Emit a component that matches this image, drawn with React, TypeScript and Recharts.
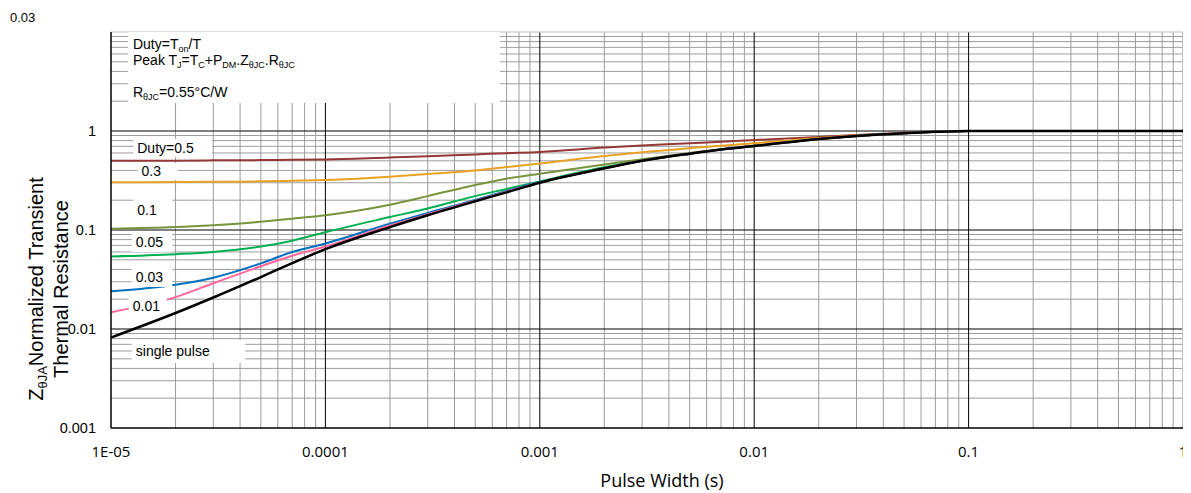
import React from "react"
import {
  LineChart,
  Line,
  XAxis,
  YAxis,
  ReferenceLine,
  ReferenceArea,
} from "recharts"

// pulse width (s) sample points shared by every curve
const pulseWidth = [
  1e-5, 2e-5, 3e-5, 5e-5, 7e-5, 1e-4, 2e-4, 3e-4, 5e-4, 7e-4, 1e-3, 2e-3,
  3e-3, 5e-3, 7e-3, 1e-2, 2e-2, 3e-2, 5e-2, 7e-2, 0.1, 0.2, 0.5, 1,
]

const duty05 = [
  0.5, 0.502, 0.505, 0.508, 0.511, 0.515, 0.54, 0.555, 0.58, 0.597, 0.615,
  0.68, 0.715, 0.75, 0.78, 0.81, 0.87, 0.91, 0.96, 0.985, 1, 1, 1, 1,
]
const duty03 = [
  0.303, 0.305, 0.307, 0.31, 0.314, 0.32, 0.345, 0.368, 0.4, 0.432, 0.47,
  0.56, 0.61, 0.67, 0.71, 0.75, 0.85, 0.9, 0.95, 0.98, 1, 1, 1, 1,
]
const duty01 = [
  0.103, 0.107, 0.112, 0.121, 0.13, 0.141, 0.18, 0.22, 0.285, 0.33, 0.37,
  0.46, 0.52, 0.6, 0.655, 0.71, 0.83, 0.89, 0.95, 0.98, 1, 1, 1, 1,
]
const duty005 = [
  0.054, 0.057, 0.06, 0.068, 0.078, 0.095, 0.135, 0.165, 0.22, 0.26, 0.31,
  0.43, 0.5, 0.59, 0.65, 0.705, 0.83, 0.89, 0.95, 0.98, 1, 1, 1, 1,
]
const duty003 = [
  0.024, 0.028, 0.033, 0.046, 0.06, 0.073, 0.116, 0.149, 0.201, 0.248, 0.305,
  0.42, 0.5, 0.59, 0.65, 0.705, 0.83, 0.89, 0.95, 0.98, 1, 1, 1, 1,
]
const duty001 = [
  0.0148, 0.021, 0.029, 0.043, 0.055, 0.068, 0.111, 0.144, 0.198, 0.244, 0.302,
  0.42, 0.5, 0.59, 0.65, 0.705, 0.83, 0.89, 0.95, 0.98, 1, 1, 1, 1,
]
const singlePulse = [
  0.0082, 0.0145, 0.0208, 0.0335, 0.0462, 0.064, 0.107, 0.141, 0.195, 0.24,
  0.3, 0.42, 0.5, 0.59, 0.65, 0.705, 0.83, 0.89, 0.95, 0.98, 1, 1, 1, 1,
]

const xTicks = [1e-5, 1e-4, 1e-3, 1e-2, 1e-1, 1]
const xTickLabels = ["1E-05", "0.0001", "0.001", "0.01", "0.1", "1"]
const yTicks = [0.001, 0.01, 0.1, 1]
const yTickLabels = ["0.001", "0.01", "0.1", "1"]

const series = [
  { key: "d05", name: "Duty=0.5", values: duty05, color: "#953735", width: 2 },
  { key: "d03", name: "0.3", values: duty03, color: "#E8A124", width: 2 },
  { key: "d01", name: "0.1", values: duty01, color: "#77933C", width: 2 },
  { key: "d005", name: "0.05", values: duty005, color: "#00B050", width: 2 },
  { key: "d003", name: "0.03", values: duty003, color: "#0070C0", width: 2 },
  { key: "d001", name: "0.01", values: duty001, color: "#FF6699", width: 2 },
  { key: "single", name: "single pulse", values: singlePulse, color: "#000000", width: 2.5 },
]

const data = pulseWidth.map((t, i) => {
  const row: Record<string, number> = { t }
  series.forEach((s) => (row[s.key] = s.values[i]))
  return row
})

// curve labels sit on white boxes, given in data space [x1, x2, y1, y2]
const curveLabels = [
  { text: "Duty=0.5", box: [1.27e-5, 2.96e-5, 0.546, 0.83] },
  { text: "0.3", box: [1.33e-5, 2.05e-5, 0.32, 0.475] },
  { text: "0.1", box: [1.27e-5, 1.93e-5, 0.1205, 0.206] },
  { text: "0.05", box: [1.25e-5, 1.93e-5, 0.06, 0.0932] },
  { text: "0.03", box: [1.25e-5, 1.93e-5, 0.0266, 0.0423] },
  { text: "0.01", box: [1.21e-5, 1.82e-5, 0.01385, 0.0206] },
  { text: "single pulse", box: [1.25e-5, 4.22e-5, 0.00454, 0.00774] },
]
const noteBox = [1.2e-5, 6.52e-4, 1.92, 10]

const decades = [1e-5, 1e-4, 1e-3, 1e-2, 1e-1]
const minorX = decades.flatMap((d) => [2, 3, 4, 5, 6, 7, 8, 9].map((k) => k * d))
const minorY = [1e-3, 1e-2, 1e-1, 1].flatMap((d) =>
  [2, 3, 4, 5, 6, 7, 8, 9].map((k) => k * d)
)

const ARIAL = "Liberation Sans, Arial, sans-serif"
const CALIBRI = "Open Sans, sans-serif"

const XTick = ({ x, y, payload }: any) => (
  <text x={x} y={y + 29} textAnchor="middle" fontFamily={CALIBRI} fontSize={15} fill="#000">
    {xTickLabels[xTicks.indexOf(payload.value)]}
  </text>
)

const YTick = ({ x, y, payload }: any) => (
  <text x={x} y={y} dy="0.36em" textAnchor="end" fontFamily={ARIAL} fontSize={14.5} fill="#000">
    {yTickLabels[yTicks.indexOf(payload.value)]}
  </text>
)

// parts: [text, isSubscript]
const rich = (parts: [string, boolean][], subSize: number, shift: number) => {
  let level = 0
  return parts.map(([t, sub], i) => {
    const target = sub ? shift : 0
    const dy = target - level
    level = target
    return (
      <tspan key={i} dy={dy} fontSize={sub ? subSize : undefined}>
        {t}
      </tspan>
    )
  })
}

const YTitle = ({ viewBox }: any) => {
  const cy = viewBox.y + 257
  return (
    <g fontFamily={ARIAL} fill="#000">
      <text x={viewBox.x + 2} y={viewBox.y - 10} fontSize={13}>
        0.03
      </text>
      <text
        transform={`translate(${viewBox.x + 35},${cy}) rotate(-90)`}
        textAnchor="middle"
        fontSize={20}
      >
        {rich(
          [
            ["Z", false],
            ["θJA", true],
            ["Normalized Transient", false],
          ],
          13,
          4
        )}
      </text>
      <text
        transform={`translate(${viewBox.x + 60},${cy}) rotate(-90)`}
        textAnchor="middle"
        fontSize={20}
      >
        Thermal Resistance
      </text>
    </g>
  )
}

const XTitle = ({ viewBox }: any) => (
  <text
    x={viewBox.x + viewBox.width / 2 + 15}
    y={viewBox.y + 59}
    textAnchor="middle"
    fontFamily={CALIBRI}
    fontSize={18}
    fill="#000"
  >
    Pulse Width (s)
  </text>
)

const labelBox = (text: string) => (props: any) => (
  <g>
    <rect x={props.x} y={props.y} width={props.width} height={props.height} fill="#fff" />
    <text
      x={props.x + 4}
      y={props.y + props.height / 2 + 5}
      fontFamily={ARIAL}
      fontSize={14}
      fill="#000"
    >
      {text}
    </text>
  </g>
)

const NoteShape = (props: any) => {
  const x = props.x + 5
  return (
    <g fontFamily={ARIAL} fontSize={14} fill="#000">
      <rect x={props.x} y={props.y} width={props.width} height={props.height} fill="#fff" />
      <text x={x} y={props.y + 17}>
        {rich(
          [
            ["Duty=T", false],
            ["on", true],
            ["/T", false],
          ],
          9,
          3
        )}
      </text>
      <text x={x} y={props.y + 33}>
        {rich(
          [
            ["Peak T", false],
            ["J", true],
            ["=T", false],
            ["C", true],
            ["+P", false],
            ["DM", true],
            [".Z", false],
            ["θJC", true],
            [".R", false],
            ["θJC", true],
          ],
          9,
          3
        )}
      </text>
      <text x={x} y={props.y + 65}>
        {rich(
          [
            ["R", false],
            ["θJC", true],
            ["=0.55°C/W", false],
          ],
          9,
          3
        )}
      </text>
    </g>
  )
}

export default function App() {
  return (
    <LineChart
      width={1183}
      height={484}
      data={data}
      margin={{ top: 24, right: 8, left: 0, bottom: 0 }}
    >
      {minorX.map((v) => (
        <ReferenceLine key={"mx" + v} x={v} stroke="#9c9c9c" strokeWidth={1} zIndex={-100} />
      ))}
      {minorY.map((v) => (
        <ReferenceLine key={"my" + v} y={v} stroke="#9c9c9c" strokeWidth={1} zIndex={-100} />
      ))}
      {[1e-4, 1e-3, 1e-2, 1e-1].map((v) => (
        <ReferenceLine key={"Mx" + v} x={v} stroke="#000" strokeWidth={1} zIndex={-90} />
      ))}
      {[1e-2, 1e-1, 1].map((v) => (
        <ReferenceLine key={"My" + v} y={v} stroke="#000" strokeWidth={1} zIndex={-90} />
      ))}
      <ReferenceLine x={1} stroke="#bfbfbf" strokeWidth={2} zIndex={-90} />
      <ReferenceLine y={10} stroke="#bfbfbf" strokeWidth={1} zIndex={-90} />
      <XAxis
        dataKey="t"
        type="number"
        scale="log"
        domain={[1e-5, 1]}
        allowDataOverflow
        ticks={xTicks}
        tick={<XTick />}
        tickSize={0}
        tickMargin={0}
        tickLine={false}
        axisLine={{ stroke: "#000", strokeWidth: 1.5 }}
        height={64}
        interval={0}
        label={<XTitle />}
      />
      <YAxis
        type="number"
        scale="log"
        domain={[0.001, 10]}
        allowDataOverflow
        ticks={yTicks}
        tick={<YTick />}
        tickSize={0}
        tickMargin={15}
        tickLine={false}
        axisLine={{ stroke: "#000", strokeWidth: 1.5 }}
        width={103}
        interval={0}
        label={<YTitle />}
      />
      {series.map((s) => (
        <Line
          key={s.key}
          dataKey={s.key}
          name={s.name}
          type="monotone"
          stroke={s.color}
          strokeWidth={s.width}
          dot={false}
          activeDot={false}
          isAnimationActive={false}
        />
      ))}
      {curveLabels.map((c) => (
        <ReferenceArea
          key={c.text}
          x1={c.box[0]}
          x2={c.box[1]}
          y1={c.box[2]}
          y2={c.box[3]}
          shape={labelBox(c.text)}
          zIndex={450}
        />
      ))}
      <ReferenceArea
        x1={noteBox[0]}
        x2={noteBox[1]}
        y1={noteBox[2]}
        y2={noteBox[3]}
        shape={NoteShape}
        zIndex={450}
      />
    </LineChart>
  )
}
